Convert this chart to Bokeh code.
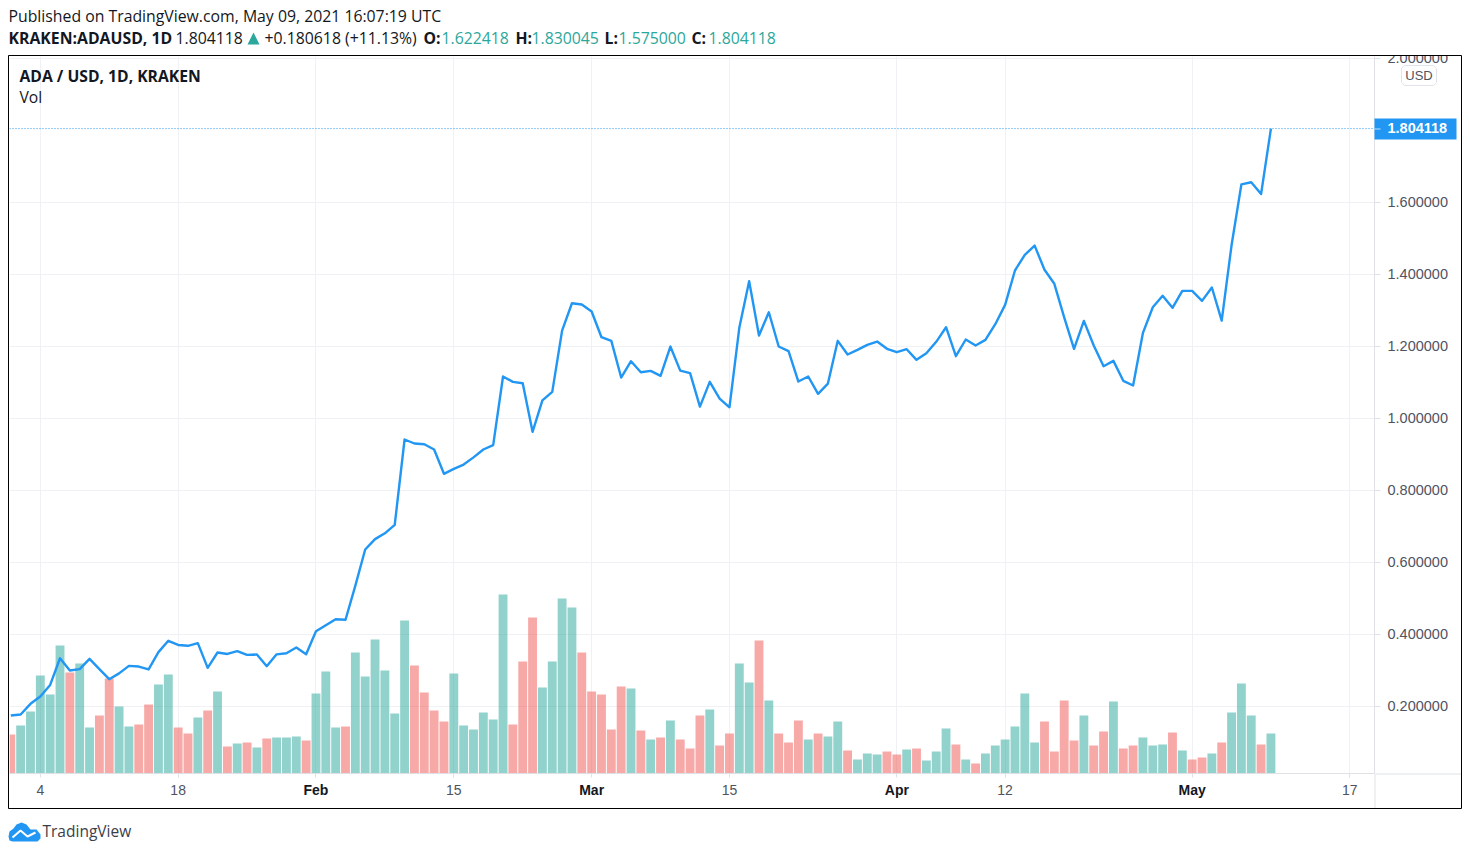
from bokeh.plotting import figure
from bokeh.embed import file_html
from bokeh.resources import INLINE
from bokeh.layouts import column
from bokeh.core.properties import value
from bokeh.models import (Range1d, LinearAxis, FixedTicker, PrintfTickFormatter, Span,
                          ColumnDataSource)

# ---- data -----------------------------------------------------------------
day_index = list(range(129))  # 0 = 1 Jan 2021 ... 128 = 9 May 2021

close = [
    0.174, 0.177, 0.2065, 0.227, 0.259, 0.333, 0.299, 0.303, 0.3315, 0.303,
    0.275, 0.291, 0.312, 0.310, 0.302, 0.350, 0.3815, 0.370, 0.3677, 0.375,
    0.3065, 0.349, 0.345, 0.353, 0.3425, 0.3435, 0.311, 0.344, 0.347, 0.363,
    0.344, 0.408, 0.425, 0.4415, 0.440, 0.535, 0.635, 0.664, 0.680, 0.7036,
    0.9406, 0.9295, 0.9276, 0.9128, 0.8453, 0.859, 0.871, 0.891, 0.9128, 0.925,
    1.1155, 1.1007, 1.097, 0.962, 1.049, 1.073, 1.243, 1.319, 1.3155, 1.296,
    1.2247, 1.2146, 1.1127, 1.158, 1.1275, 1.1313, 1.1174, 1.1988, 1.132, 1.1247,
    1.032, 1.1007, 1.0544, 1.030, 1.2507, 1.380, 1.2294, 1.294, 1.1988, 1.186,
    1.1016, 1.1155, 1.0675, 1.096, 1.2146, 1.1766, 1.1896, 1.2035, 1.2127, 1.1924,
    1.183, 1.1914, 1.1619, 1.1803, 1.2119, 1.2524, 1.1719, 1.2183, 1.2016, 1.2174,
    1.2608, 1.3146, 1.41, 1.4535, 1.479, 1.412, 1.373, 1.280, 1.1924, 1.270,
    1.2016, 1.1441, 1.159, 1.1036, 1.0905, 1.2369, 1.308, 1.3396, 1.3063, 1.3535,
    1.3535, 1.3257, 1.3627, 1.271, 1.480, 1.649, 1.655, 1.6224, 1.804118,
]

volume = [
    39, 48, 62, 98, 79, 128, 101, 110, 46, 58,
    95, 67, 47, 49, 69, 89, 99, 46, 40, 56,
    63, 82, 27, 30, 31, 26, 35, 36, 36, 37,
    33, 80, 102, 46, 47, 121, 97, 134, 103, 60,
    153, 108, 81, 63, 52, 100, 48, 44, 61, 54,
    179, 49, 112, 156, 86, 112, 175, 166, 121, 82,
    79, 44, 87, 85, 43, 34, 36, 53, 34, 25,
    58, 64, 28, 40, 110, 91, 133, 73, 40, 31,
    53, 34, 40, 37, 52, 23, 14, 20, 19, 22,
    19, 24, 25, 13, 22, 45, 29, 14, 10, 20,
    28, 34, 47, 80, 31, 52, 22, 73, 33, 58,
    28, 42, 72, 25, 28, 36, 28, 29, 41, 23,
    14, 16, 20, 31, 61, 90, 58, 29, 40,
]

falling_days = [0, 6, 9, 10, 13, 14, 17, 18, 20, 22, 24, 26, 30, 34, 41, 42, 43, 44, 51, 52, 53,
                58, 59, 60, 61, 62, 64, 66, 68, 69, 70, 72, 73, 76, 78, 79, 80, 82, 85, 89, 90,
                92, 96, 98, 105, 106, 107, 108, 110, 111, 113, 114, 118, 120, 121, 123, 127]
UP, DOWN = "#26a69a", "#ef5350"
bar_colors = [DOWN if i in falling_days else UP for i in day_index]

x_ticks = [3, 17, 31, 45, 59, 73, 90, 101, 120, 136]
x_tick_labels = ["4", "18", "Feb", "15", "Mar", "15", "Apr", "12", "May", "17"]
month_labels = ["Feb", "Mar", "Apr", "May"]
price_ticks = [0.2, 0.4, 0.6, 0.8, 1.0, 1.2, 1.4, 1.6, 2.0]
last_price = 1.804118

header_1 = "Published on TradingView.com, May 09, 2021 16:07:19 UTC"

# ---- main chart -----------------------------------------------------------
W, H = 1470, 850
X_RANGE = (-0.13, 138.52)
p = figure(width=W, height=H, output_backend="svg", toolbar_location=None,
           x_range=Range1d(*X_RANGE), y_range=Range1d(0.013, 2.0043),
           min_border_left=9, min_border_right=96, min_border_top=56, min_border_bottom=77,
           x_axis_location=None, y_axis_location=None, outline_line_color=None,
           background_fill_color="white", border_fill_color="white", margin=(0, 0, 0, 0))
p.frame_align = False
p.extra_y_ranges = {"vol": Range1d(0, 717)}

GRID = "#f0f1f4"
AXIS = "#e0e1e6"
TXT = "#131722"
TICK = "#50535e"
BLUE = "#2196f3"
GREEN = "#2ba79b"
FONT = "Open Sans"
AFONT = "Liberation Sans"

xaxis = LinearAxis(ticker=FixedTicker(ticks=x_ticks),
                   major_label_overrides={t: ("" if l in month_labels else l)
                                          for t, l in zip(x_ticks, x_tick_labels)},
                   major_tick_in=0, major_tick_out=4, minor_tick_out=0, minor_tick_in=0,
                   major_tick_line_color=AXIS, axis_line_color=AXIS,
                   major_label_text_font=AFONT, major_label_text_font_size="14px",
                   major_label_text_color=TICK, major_label_standoff=7)
p.add_layout(xaxis, "below")

yaxis = LinearAxis(ticker=FixedTicker(ticks=price_ticks),
                   formatter=PrintfTickFormatter(format="%.6f"),
                   major_tick_in=0, major_tick_out=6, minor_tick_out=0, minor_tick_in=0,
                   major_tick_line_color=AXIS, axis_line_color=AXIS,
                   major_label_text_font=AFONT, major_label_text_font_size="14.5px",
                   major_label_text_color=TICK, major_label_standoff=7)
p.add_layout(yaxis, "right")

p.xgrid.ticker = FixedTicker(ticks=x_ticks)
p.ygrid.ticker = FixedTicker(ticks=price_ticks)
p.xgrid.grid_line_color = GRID
p.ygrid.grid_line_color = GRID

src = ColumnDataSource(dict(x=day_index, close=close, vol=volume, color=bar_colors))
p.vbar(x="x", top="vol", bottom=0, width=0.9, source=src, y_range_name="vol",
       fill_color="color", fill_alpha=0.5, line_color=None)
p.line(x="x", y="close", source=src, line_color=BLUE, line_width=2.4, line_join="round")

p.add_layout(Span(location=last_price, dimension="width", line_color=BLUE,
                  line_width=1, line_dash="1 2"))

# ---- transparent sheet on top, in page pixels: frame, header, tag, logo -----
o = figure(width=W, height=H, output_backend="svg", toolbar_location=None,
           x_range=Range1d(0, W), y_range=Range1d(H, 0),
           min_border=0, min_border_left=0, min_border_right=0, min_border_top=0, min_border_bottom=0,
           x_axis_location=None, y_axis_location=None, outline_line_color=None,
           background_fill_alpha=0, border_fill_alpha=0, margin=(-H, 0, 0, 0))
o.frame_align = False
o.grid.visible = False
# the same day scale as the chart, stretched over the whole sheet
px_per_day = (1374 - 9) / (X_RANGE[1] - X_RANGE[0])
o.extra_x_ranges = {"day": Range1d(X_RANGE[0] - 9 / px_per_day, X_RANGE[1] + (W - 1374) / px_per_day)}


def box(l, r, t, b, **kw):
    o.quad(left=[l], right=[r], top=[t], bottom=[b], **kw)


def text(x, y, s, size="15.8px", color=TXT, font=FONT, style="normal", align="left"):
    o.text(x=[x], y=[y], text=[s], text_font=value(font), text_font_size=value(size),
           text_color=color, text_font_style=style, text_align=align, text_baseline="middle")


# month labels on the time axis, bold, at their own ticks
for t, l in zip(x_ticks, x_tick_labels):
    if l in month_labels:
        o.text(x=[t], y=[789.5], text=[l], x_range_name="day", text_font=value(AFONT),
               text_font_size=value("14px"), text_color=TXT, text_font_style="bold",
               text_align="center", text_baseline="middle")

# cover above the frame so that the 2.000000 label is cut off, as in the picture
box(1376, 1460, 44, 55, fill_color="white", line_color=None)
# axis separators
box(1374, 1375, 773, 808, fill_color=AXIS, line_color=None)
box(1375, 1461, 773, 774, fill_color=AXIS, line_color=None)
# outer frame
box(8, 1461, 55, 808, fill_alpha=0, line_color="black", line_width=1)

# USD badge and last-price tag
o.patch(x=[1404, 1433, 1436, 1436, 1433, 1404, 1401, 1401],
        y=[65, 65, 68, 82, 85, 85, 82, 68],
        fill_color="white", line_color="#e0e3eb", line_width=1)
text(1418.5, 74.5, "USD", size="13px", color=TICK, font=AFONT, align="center")
box(1374, 1456, 118, 139, fill_color=BLUE, line_color=None)
box(1374, 1380, 128, 129, fill_color="white", fill_alpha=0.7, line_color=None)
text(1387, 127.7, f"{last_price:.6f}", size="14.5px", color="white", font=AFONT, style="bold")

# header
text(8, 15.7, header_1)
text(8, 37.7, "KRAKEN:ADAUSD, 1D", style="bold")
text(175, 37.7, "1.804118")
o.patch(x=[247, 259, 253], y=[44, 44, 32], fill_color=GREEN, line_color=None)
text(264, 37.7, "+0.180618 (+11.13%)")
for lx, ls, vx, vs in [(423, "O:", 441, "1.622418"), (515, "H:", 531, "1.830045"),
                       (604, "L:", 618, "1.575000"), (691, "C:", 708, "1.804118")]:
    text(lx, 37.7, ls, style="bold")
    text(vx, 37.7, vs, color=GREEN)

text(19, 75.7, "ADA / USD, 1D, KRAKEN", size="15.7px", style="bold")
text(19, 96.7, "Vol", size="15.7px")

# TradingView mark
o.patch(x=[8, 9, 13, 16, 21, 26, 30, 36, 40, 40, 37, 12, 9],
        y=[836, 831, 828, 824, 822, 824, 829, 829, 834, 838, 841, 841, 840],
        fill_color=BLUE, line_color=None)
o.line(x=[12, 20, 27, 35], y=[837, 830, 836, 832], line_color="white", line_width=2)
text(42, 830.7, "TradingView", size="15.5px", color="#3a3e4a")

layout = column(p, o, spacing=0, margin=(0, 0, 0, 0))
open("out.html", "w").write(file_html(layout, INLINE))
